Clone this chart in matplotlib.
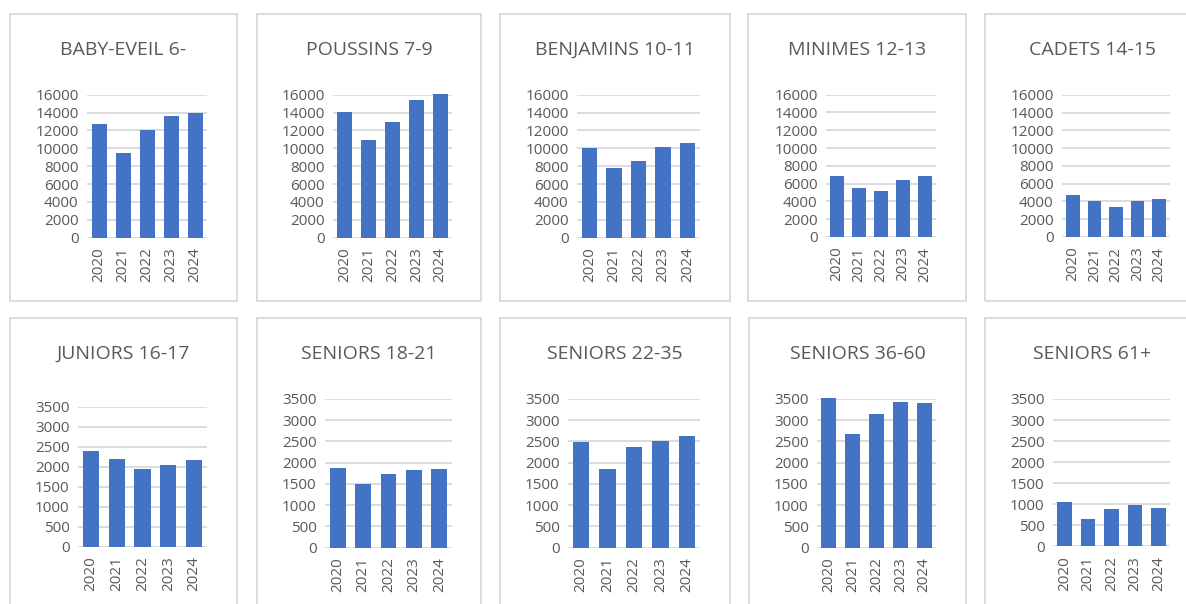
import matplotlib.pyplot as plt
from matplotlib.patches import Rectangle

plt.rcParams['font.family'] = ['Open Sans', 'DejaVu Sans']

years = ['2020', '2021', '2022', '2023', '2024']

baby_eveil = [12700, 9500, 12000, 13600, 13900]
poussins = [14100, 10900, 13000, 15400, 16050]
benjamins = [10000, 7800, 8600, 10150, 10650]
minimes = [6850, 5550, 5200, 6400, 6900]
cadets = [4780, 4000, 3400, 4000, 4300]
juniors = [2390, 2200, 1940, 2040, 2180]
seniors_18_21 = [1876, 1490, 1727, 1830, 1860]
seniors_22_35 = [2480, 1860, 2378, 2512, 2630]
seniors_36_60 = [3524, 2677, 3155, 3430, 3414]
seniors_61 = [1045, 650, 887, 982, 918]

titles = ['BABY-EVEIL 6-', 'POUSSINS 7-9', 'BENJAMINS 10-11', 'MINIMES 12-13', 'CADETS 14-15',
          'JUNIORS 16-17', 'SENIORS 18-21', 'SENIORS 22-35', 'SENIORS 36-60', 'SENIORS 61+']
series = [baby_eveil, poussins, benjamins, minimes, cadets,
          juniors, seniors_18_21, seniors_22_35, seniors_36_60, seniors_61]

W, H = 1186, 604
fig = plt.figure(figsize=(W / 100, H / 100), dpi=100)

# pixel layout: box (left, top, right, bottom), plot area (left, right, top, bottom)
boxes = [(10, 14, 237, 301), (257, 14, 481, 301), (500, 14, 730, 301), (748, 14, 966, 301), (985, 14, 1200, 301),
         (10, 318, 237, 640), (257, 318, 481, 640), (500, 318, 730, 640), (749, 318, 966, 640), (985, 318, 1200, 640)]
areas = [(87, 207, 94.7, 237.7), (333, 452, 94.7, 237.7), (577, 700, 94.7, 237.7), (826, 936, 94.7, 237.0), (1062, 1170, 95.0, 237.0),
         (78, 207, 407, 546.7), (325, 452, 399, 547.7), (568, 700, 399, 547.7), (817, 936, 399, 547.7), (1053, 1170, 399, 546.3)]
title_y = [50] * 5 + [354] * 5

grey = '#595959'
grid_c = '#d9d9d9'

for i in range(10):
    bl, bt, br, bb = boxes[i]
    fig.patches.append(Rectangle((bl / W, 1 - bb / H), (br - bl) / W, (bb - bt) / H,
                                 transform=fig.transFigure, fill=False, edgecolor=grid_c, lw=1.3))
    fig.text((bl + br) / 2 / W, 1 - title_y[i] / H, titles[i], ha='center', va='center',
             fontsize=14, color=grey)

    l, r, t, b = areas[i]
    ax = fig.add_axes([l / W, 1 - b / H, (r - l) / W, (b - t) / H])
    ax.patch.set_alpha(0)
    ax.bar(range(5), series[i], width=0.625, color='#4472C4', clip_on=False, zorder=3)
    ax.set_xlim(-0.5, 4.5)
    if i < 5:
        ax.set_ylim(0, 16000)
        ax.set_yticks(range(0, 16001, 2000))
    else:
        ax.set_ylim(0, 3500)
        ax.set_yticks(range(0, 3501, 500))
    ax.set_xticks(range(5))
    ax.set_xticklabels(years, rotation=90)
    for s in ax.spines.values():
        s.set_visible(False)
    ax.yaxis.grid(True, color=grid_c, lw=1.3)
    ax.set_axisbelow(True)
    ax.tick_params(axis='both', length=0, labelsize=11, labelcolor=grey)
    ax.tick_params(axis='y', pad=6)
    ax.tick_params(axis='x', pad=7)

fig.savefig('out.png', dpi=100)
